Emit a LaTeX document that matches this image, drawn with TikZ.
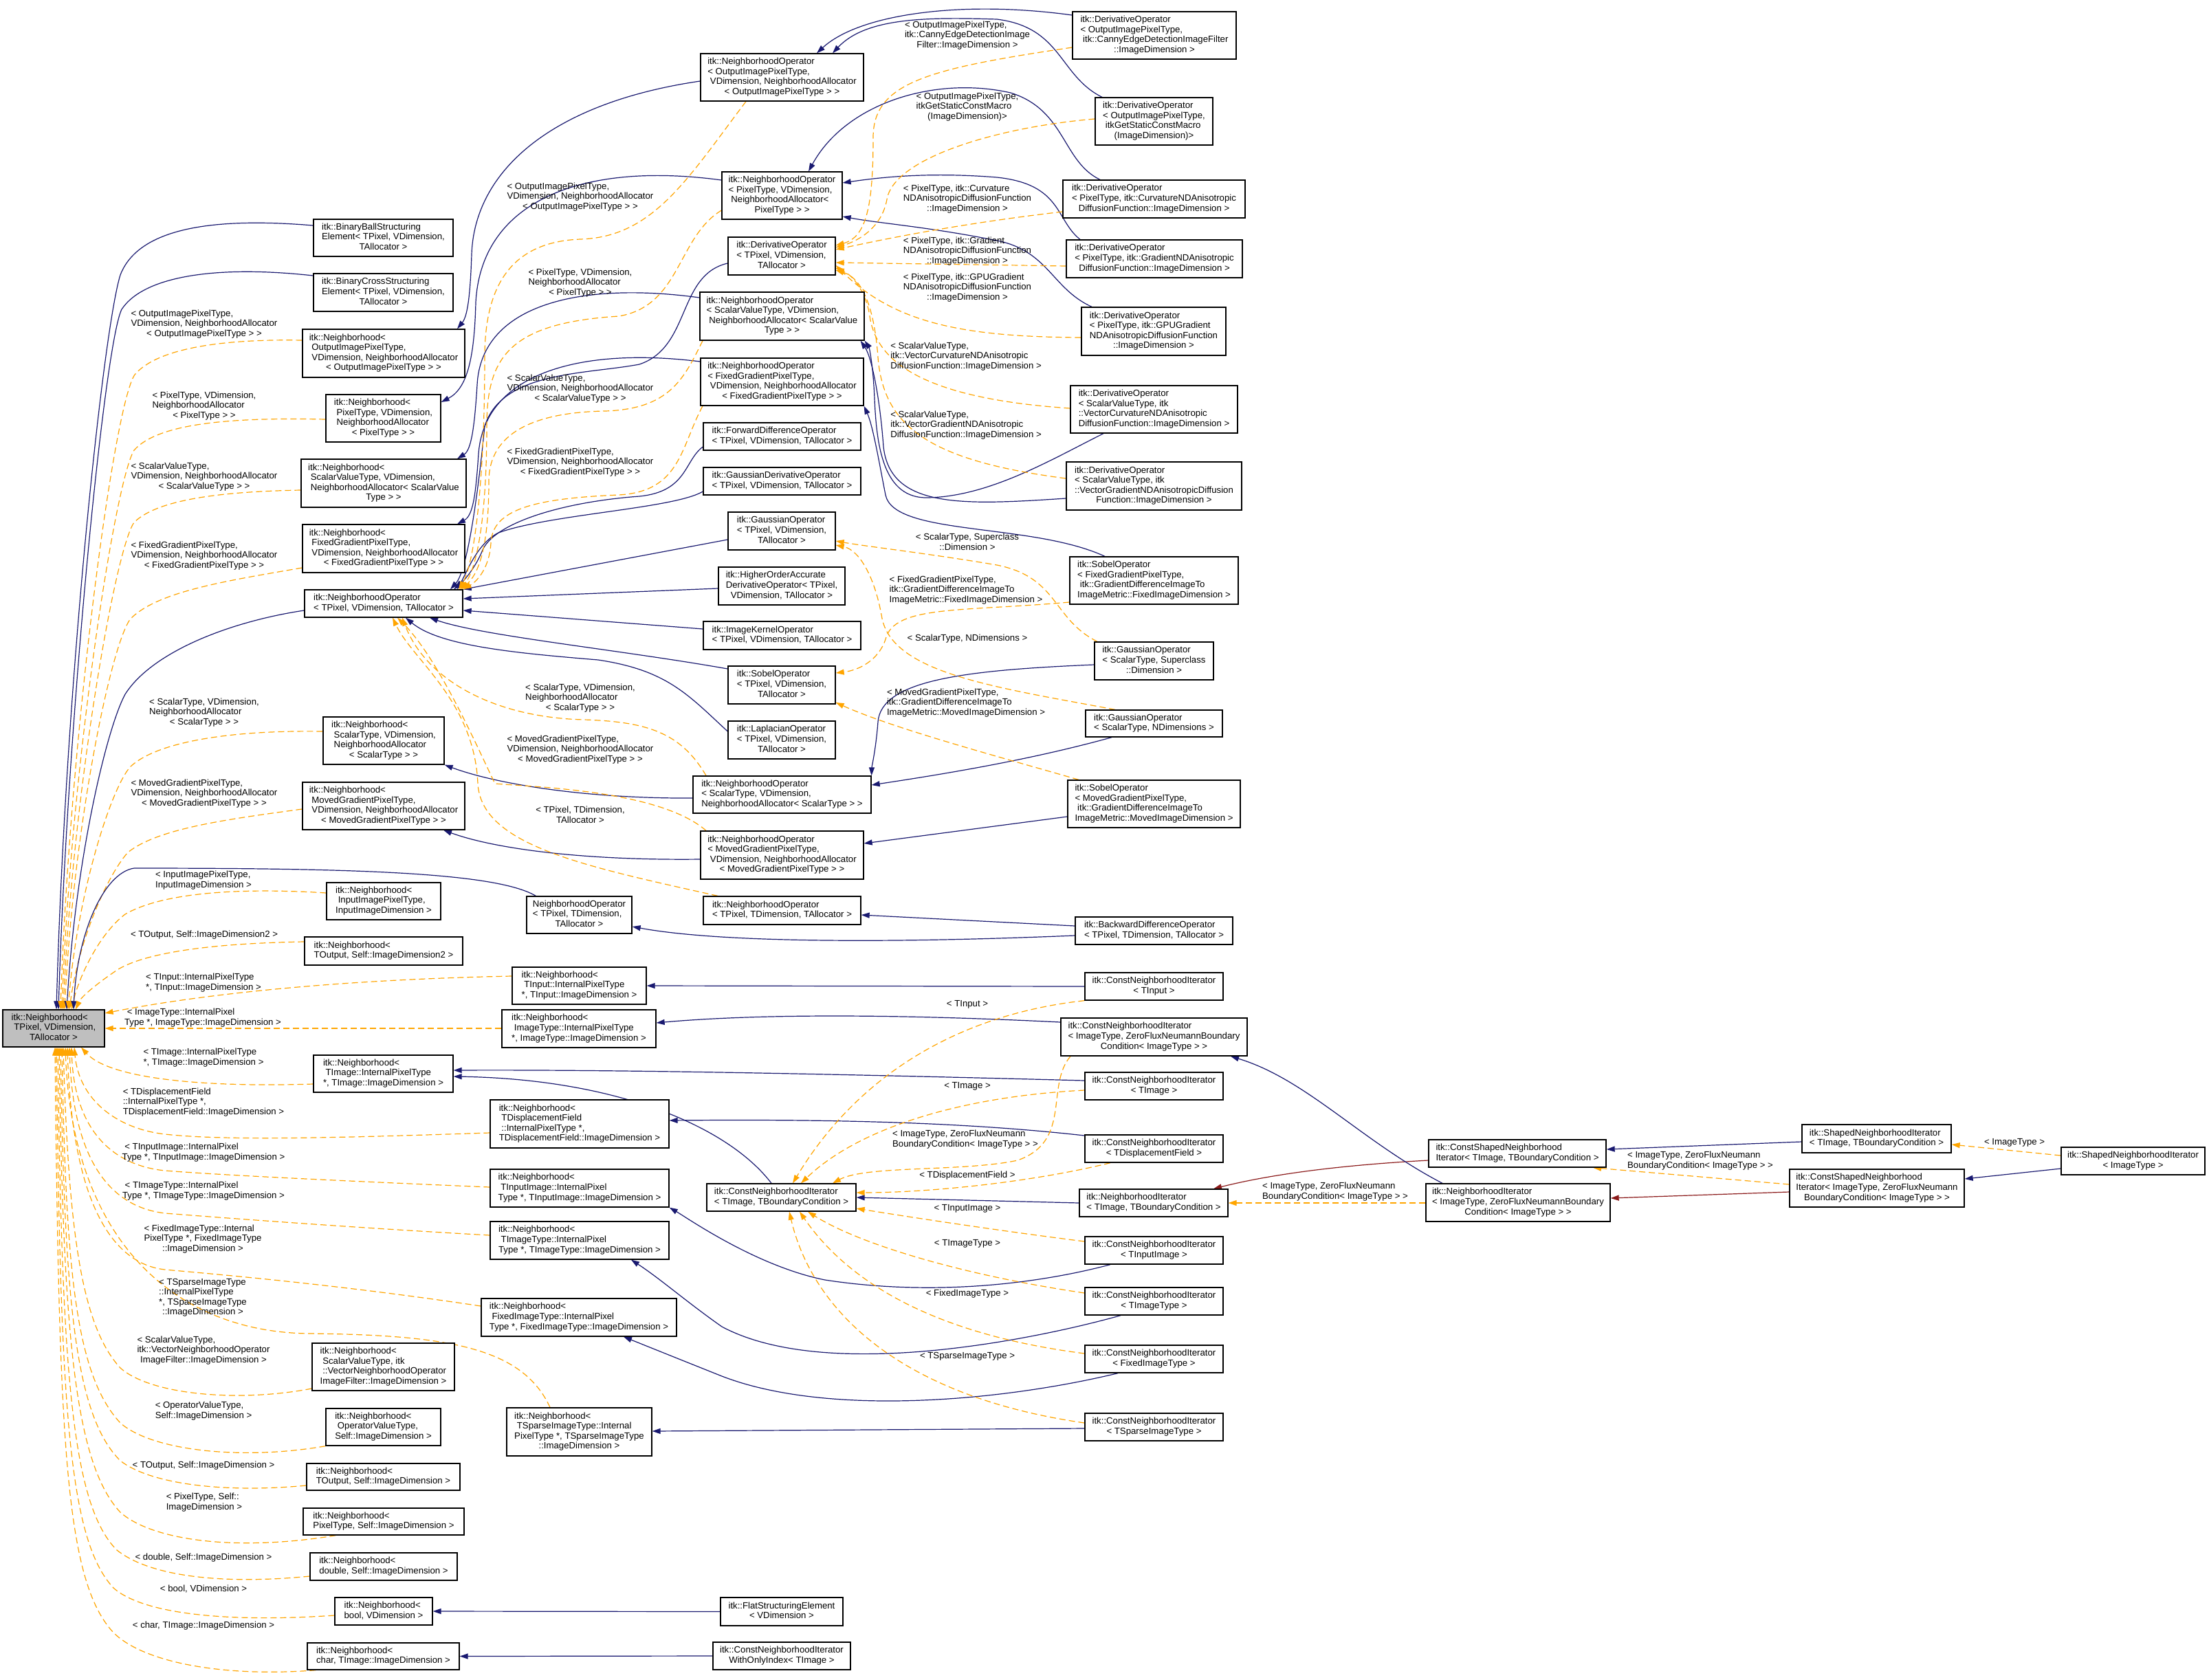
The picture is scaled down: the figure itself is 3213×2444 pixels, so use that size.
\documentclass[tikz,border=0pt]{standalone}
\usepackage{fontspec}
\setmainfont{Liberation Sans}
\usetikzlibrary{arrows.meta}
\definecolor{mblue}{HTML}{191970}
\definecolor{dorange}{HTML}{FFA500}
\definecolor{dred}{HTML}{8B1A1A}
\definecolor{rootgray}{HTML}{BFBFBF}
\newcommand\dxfont{\fontsize{13.2}{14.6}\selectfont}
\newcommand\dxl[2]{\begin{tabular}{@{}l@{}}#1\\\multicolumn{1}{@{}c@{}}{#2}\end{tabular}}
\pgfdeclarelayer{edges}
\pgfsetlayers{edges,main}
\begin{document}
\begin{tikzpicture}[x=1pt,y=-1pt,
  cls/.style 2 args={draw=black,line width=1.3pt,fill=white,minimum width=#1pt,minimum height=#2pt,inner sep=2pt,font=\dxfont},
  elab/.style={inner sep=0pt,font=\dxfont},
  pubE/.style={draw=mblue,line width=1.2pt,-{Triangle[length=12pt,width=8pt]}},
  tmpE/.style={draw=dorange,line width=1.2pt,dash pattern=on 9pt off 5pt,-{Triangle[length=12pt,width=8pt]}},
  proE/.style={draw=dred,line width=1.2pt,-{Triangle[length=12pt,width=8pt]}}]
\path[use as bounding box] (0,0) rectangle (3213,2444);
% ---------- nodes: column 0/1
\node[cls={148}{54},fill=rootgray] (root) at (78,1496) {\dxl{itk::Neighborhood<\\\ TPixel, VDimension,}{TAllocator >}};
\node[cls={203}{54}] (N1) at (557.5,346) {\dxl{itk::BinaryBallStructuring\\Element< TPixel, VDimension,}{TAllocator >}};
\node[cls={203}{55}] (N2) at (557.5,425.5) {\dxl{itk::BinaryCrossStructuring\\Element< TPixel, VDimension,}{TAllocator >}};
\node[cls={236}{70}] (N3) at (558,514) {\dxl{itk::Neighborhood<\\\ OutputImagePixelType,\\\ VDimension, NeighborhoodAllocator}{< OutputImagePixelType > >}};
\node[cls={167}{69}] (N4) at (557.5,608.5) {\dxl{itk::Neighborhood<\\\ PixelType, VDimension,\\\ NeighborhoodAllocator}{< PixelType > >}};
\node[cls={240}{70}] (N5) at (558,703) {\dxl{itk::Neighborhood<\\\ ScalarValueType, VDimension,\\\ NeighborhoodAllocator< ScalarValue}{Type > >}};
\node[cls={236}{70}] (N6) at (558,798) {\dxl{itk::Neighborhood<\\\ FixedGradientPixelType,\\\ VDimension, NeighborhoodAllocator}{< FixedGradientPixelType > >}};
\node[cls={230}{40}] (N7) at (558,878) {\dxl{itk::NeighborhoodOperator}{< TPixel, VDimension, TAllocator >}};
\node[cls={176}{69}] (N8) at (558,1077.5) {\dxl{itk::Neighborhood<\\\ ScalarType, VDimension,\\\ NeighborhoodAllocator}{< ScalarType > >}};
\node[cls={236}{69}] (N9) at (558,1172.5) {\dxl{itk::Neighborhood<\\\ MovedGradientPixelType,\\\ VDimension, NeighborhoodAllocator}{< MovedGradientPixelType > >}};
\node[cls={166}{54}] (N10) at (558,1311) {\dxl{itk::Neighborhood<\\\ InputImagePixelType,}{InputImageDimension >}};
\node[cls={230}{41}] (N11) at (558,1383.5) {\dxl{itk::Neighborhood<}{TOutput, Self::ImageDimension2 >}};
\node[cls={153}{54}] (N12) at (842.5,1331) {\dxl{NeighborhoodOperator\\< TPixel, TDimension,}{TAllocator >}};
\node[cls={195}{54}] (N13) at (842.5,1434) {\dxl{itk::Neighborhood<\\\ TInput::InternalPixelType}{*, TInput::ImageDimension >}};
\node[cls={224}{55}] (N14) at (842,1496.5) {\dxl{itk::Neighborhood<\\\ ImageType::InternalPixelType}{*, ImageType::ImageDimension >}};
\node[cls={203}{54}] (N15) at (557.5,1562) {\dxl{itk::Neighborhood<\\\ TImage::InternalPixelType}{*, TImage::ImageDimension >}};
\node[cls={260}{70}] (N16) at (843,1635) {\dxl{itk::Neighborhood<\\\ TDisplacementField\\\ ::InternalPixelType *,}{TDisplacementField::ImageDimension >}};
\node[cls={260}{55}] (N17) at (843,1728.5) {\dxl{itk::Neighborhood<\\\ TInputImage::InternalPixel}{Type *, TInputImage::ImageDimension >}};
\node[cls={260}{55}] (N18) at (843,1804.5) {\dxl{itk::Neighborhood<\\\ TImageType::InternalPixel}{Type *, TImageType::ImageDimension >}};
\node[cls={284}{55}] (N19) at (842,1916.5) {\dxl{itk::Neighborhood<\\\ FixedImageType::InternalPixel}{Type *, FixedImageType::ImageDimension >}};
\node[cls={207}{69}] (N20) at (557.5,1988.5) {\dxl{itk::Neighborhood<\\\ ScalarValueType, itk\\\ ::VectorNeighborhoodOperator}{ImageFilter::ImageDimension >}};
\node[cls={211}{70}] (N21) at (842.5,2083) {\dxl{itk::Neighborhood<\\\ TSparseImageType::Internal\\PixelType *, TSparseImageType}{::ImageDimension >}};
\node[cls={167}{54}] (N22) at (557.5,2076) {\dxl{itk::Neighborhood<\\\ OperatorValueType,}{Self::ImageDimension >}};
\node[cls={223}{39}] (N23) at (557.5,2148.5) {\dxl{itk::Neighborhood<}{TOutput, Self::ImageDimension >}};
\node[cls={234}{39}] (N24) at (558,2213.5) {\dxl{itk::Neighborhood<}{PixelType, Self::ImageDimension >}};
\node[cls={214}{40}] (N25) at (558,2279) {\dxl{itk::Neighborhood<}{double, Self::ImageDimension >}};
\node[cls={142}{40}] (N26) at (558,2344) {\dxl{itk::Neighborhood<}{bool, VDimension >}};
\node[cls={221}{39}] (N27) at (557.5,2409.5) {\dxl{itk::Neighborhood<}{char, TImage::ImageDimension >}};
% ---------- column 2
\node[cls={237}{69}] (M1) at (1137.5,112.5) {\dxl{itk::NeighborhoodOperator\\< OutputImagePixelType,\\\ VDimension, NeighborhoodAllocator}{< OutputImagePixelType > >}};
\node[cls={175}{69}] (M2) at (1137.5,284.5) {\dxl{itk::NeighborhoodOperator\\< PixelType, VDimension,\\\ NeighborhoodAllocator<}{PixelType > >}};
\node[cls={156}{55}] (M3) at (1137,372.5) {\dxl{itk::DerivativeOperator\\< TPixel, VDimension,}{TAllocator >}};
\node[cls={239}{70}] (M4) at (1137.5,460) {\dxl{itk::NeighborhoodOperator\\< ScalarValueType, VDimension,\\\ NeighborhoodAllocator< ScalarValue}{Type > >}};
\node[cls={237}{69}] (M5) at (1137.5,555.5) {\dxl{itk::NeighborhoodOperator\\< FixedGradientPixelType,\\\ VDimension, NeighborhoodAllocator}{< FixedGradientPixelType > >}};
\node[cls={229}{40}] (M6) at (1137.5,635) {\dxl{itk::ForwardDifferenceOperator}{< TPixel, VDimension, TAllocator >}};
\node[cls={229}{40}] (M7) at (1137.5,700) {\dxl{itk::GaussianDerivativeOperator}{< TPixel, VDimension, TAllocator >}};
\node[cls={156}{55}] (M8) at (1137,772.5) {\dxl{itk::GaussianOperator\\< TPixel, VDimension,}{TAllocator >}};
\node[cls={184}{55}] (M9) at (1137,852.5) {\dxl{itk::HigherOrderAccurate\\DerivativeOperator< TPixel,}{VDimension, TAllocator >}};
\node[cls={229}{41}] (M10) at (1137.5,924.5) {\dxl{itk::ImageKernelOperator}{< TPixel, VDimension, TAllocator >}};
\node[cls={156}{55}] (M11) at (1137,996.5) {\dxl{itk::SobelOperator\\< TPixel, VDimension,}{TAllocator >}};
\node[cls={156}{55}] (M12) at (1137,1076.5) {\dxl{itk::LaplacianOperator\\< TPixel, VDimension,}{TAllocator >}};
\node[cls={259}{54}] (M13) at (1137.5,1156) {\dxl{itk::NeighborhoodOperator\\< ScalarType, VDimension,}{NeighborhoodAllocator< ScalarType > >}};
\node[cls={237}{70}] (M14) at (1137.5,1244) {\dxl{itk::NeighborhoodOperator\\< MovedGradientPixelType,\\\ VDimension, NeighborhoodAllocator}{< MovedGradientPixelType > >}};
\node[cls={229}{41}] (M15) at (1137.5,1324.5) {\dxl{itk::NeighborhoodOperator}{< TPixel, TDimension, TAllocator >}};
\node[cls={217}{40}] (M16) at (1136.5,1742) {\dxl{itk::ConstNeighborhoodIterator}{< TImage, TBoundaryCondition >}};
\node[cls={178}{41}] (M17) at (1137,2344.5) {\dxl{itk::FlatStructuringElement}{< VDimension >}};
\node[cls={200}{40}] (M18) at (1137,2409) {\dxl{itk::ConstNeighborhoodIterator}{WithOnlyIndex< TImage >}};
% ---------- column 3
\node[cls={238}{69}] (R1) at (1679,51.5) {\dxl{itk::DerivativeOperator\\< OutputImagePixelType,\\\ itk::CannyEdgeDetectionImageFilter}{::ImageDimension >}};
\node[cls={171}{69}] (R2) at (1678.5,176.5) {\dxl{itk::DerivativeOperator\\< OutputImagePixelType,\\\ itkGetStaticConstMacro}{(ImageDimension)>}};
\node[cls={265}{55}] (R3) at (1678.5,289.5) {\dxl{itk::DerivativeOperator\\< PixelType, itk::CurvatureNDAnisotropic}{DiffusionFunction::ImageDimension >}};
\node[cls={256}{55}] (R4) at (1679,376.5) {\dxl{itk::DerivativeOperator\\< PixelType, itk::GradientNDAnisotropic}{DiffusionFunction::ImageDimension >}};
\node[cls={210}{70}] (R5) at (1678,482) {\dxl{itk::DerivativeOperator\\< PixelType, itk::GPUGradient\\NDAnisotropicDiffusionFunction}{::ImageDimension >}};
\node[cls={243}{69}] (R6) at (1678.5,595.5) {\dxl{itk::DerivativeOperator\\< ScalarValueType, itk\\::VectorCurvatureNDAnisotropic}{DiffusionFunction::ImageDimension >}};
\node[cls={255}{70}] (R7) at (1678.5,707) {\dxl{itk::DerivativeOperator\\< ScalarValueType, itk\\::VectorGradientNDAnisotropicDiffusion}{Function::ImageDimension >}};
\node[cls={245}{69}] (R8) at (1678.5,844.5) {\dxl{itk::SobelOperator\\< FixedGradientPixelType,\\\ itk::GradientDifferenceImageTo}{ImageMetric::FixedImageDimension >}};
\node[cls={173}{55}] (R9) at (1678.5,961.5) {\dxl{itk::GaussianOperator\\< ScalarType, Superclass}{::Dimension >}};
\node[cls={199}{39}] (R10) at (1678.5,1052.5) {\dxl{itk::GaussianOperator}{< ScalarType, NDimensions >}};
\node[cls={251}{69}] (R11) at (1678.5,1169.5) {\dxl{itk::SobelOperator\\< MovedGradientPixelType,\\\ itk::GradientDifferenceImageTo}{ImageMetric::MovedImageDimension >}};
\node[cls={229}{40}] (R12) at (1678.5,1354) {\dxl{itk::BackwardDifferenceOperator}{< TPixel, TDimension, TAllocator >}};
\node[cls={201}{40}] (R13) at (1678.5,1435) {\dxl{itk::ConstNeighborhoodIterator}{< TInput >}};
\node[cls={271}{55}] (R14) at (1678.5,1508.5) {\dxl{itk::ConstNeighborhoodIterator\\< ImageType, ZeroFluxNeumannBoundary}{Condition< ImageType > >}};
\node[cls={201}{40}] (R15) at (1678.5,1580) {\dxl{itk::ConstNeighborhoodIterator}{< TImage >}};
\node[cls={201}{40}] (R16) at (1678.5,1671) {\dxl{itk::ConstNeighborhoodIterator}{< TDisplacementField >}};
\node[cls={216}{40}] (R17) at (1678,1750) {\dxl{itk::NeighborhoodIterator}{< TImage, TBoundaryCondition >}};
\node[cls={201}{40}] (R18) at (1678.5,1819) {\dxl{itk::ConstNeighborhoodIterator}{< TInputImage >}};
\node[cls={201}{40}] (R19) at (1678.5,1893) {\dxl{itk::ConstNeighborhoodIterator}{< TImageType >}};
\node[cls={201}{40}] (R20) at (1678.5,1977) {\dxl{itk::ConstNeighborhoodIterator}{< FixedImageType >}};
\node[cls={201}{40}] (R21) at (1678.5,2076) {\dxl{itk::ConstNeighborhoodIterator}{< TSparseImageType >}};
% ---------- right cluster
\node[cls={258}{40}] (S1) at (2207,1678) {\dxl{itk::ConstShapedNeighborhood}{Iterator< TImage, TBoundaryCondition >}};
\node[cls={268}{55}] (S2) at (2208,1749.5) {\dxl{itk::NeighborhoodIterator\\< ImageType, ZeroFluxNeumannBoundary}{Condition< ImageType > >}};
\node[cls={217}{41}] (T1) at (2729.5,1656.5) {\dxl{itk::ShapedNeighborhoodIterator}{< TImage, TBoundaryCondition >}};
\node[cls={254}{55}] (T2) at (2730,1728.5) {\dxl{itk::ConstShapedNeighborhood\\Iterator< ImageType, ZeroFluxNeumann}{BoundaryCondition< ImageType > >}};
\node[cls={209}{40}] (U1) at (3102.5,1689) {\dxl{itk::ShapedNeighborhoodIterator}{< ImageType >}};
% ---------- edge labels (root)
\node[elab] (l3) at (297,472) {\dxl{< OutputImagePixelType,\\VDimension, NeighborhoodAllocator}{< OutputImagePixelType > >}};
\node[elab] (l4) at (297,591) {\dxl{< PixelType, VDimension,\\NeighborhoodAllocator}{< PixelType > >}};
\node[elab] (l5) at (297,694) {\dxl{< ScalarValueType,\\VDimension, NeighborhoodAllocator}{< ScalarValueType > >}};
\node[elab] (l6) at (297,809) {\dxl{< FixedGradientPixelType,\\VDimension, NeighborhoodAllocator}{< FixedGradientPixelType > >}};
\node[elab] (l8) at (297,1037) {\dxl{< ScalarType, VDimension,\\NeighborhoodAllocator}{< ScalarType > >}};
\node[elab] (l9) at (297,1155) {\dxl{< MovedGradientPixelType,\\VDimension, NeighborhoodAllocator}{< MovedGradientPixelType > >}};
\node[elab] (l10) at (296,1281) {\dxl{< InputImagePixelType,}{InputImageDimension >}};
\node[elab] (l11) at (297,1360) {< TOutput, Self::ImageDimension2 >};
\node[elab] (l13) at (296,1430) {\dxl{< TInput::InternalPixelType}{*, TInput::ImageDimension >}};
\node[elab] (l14) at (295,1481) {\dxl{\ < ImageType::InternalPixel}{Type *, ImageType::ImageDimension >}};
\node[elab] (l15) at (296,1539) {\dxl{< TImage::InternalPixelType}{*, TImage::ImageDimension >}};
\node[elab] (l16) at (296,1604) {\dxl{< TDisplacementField\\::InternalPixelType *,}{TDisplacementField::ImageDimension >}};
\node[elab] (l17) at (296,1677) {\dxl{\ < TInputImage::InternalPixel}{Type *, TInputImage::ImageDimension >}};
\node[elab] (l18) at (296,1733) {\dxl{\ < TImageType::InternalPixel}{Type *, TImageType::ImageDimension >}};
\node[elab] (l19) at (295,1803) {\dxl{< FixedImageType::Internal\\PixelType *, FixedImageType}{::ImageDimension >}};
\node[elab] (l21) at (295,1888) {\dxl{< TSparseImageType\\::InternalPixelType\\{}*, TSparseImageType}{::ImageDimension >}};
\node[elab] (l20) at (296,1965) {\dxl{< ScalarValueType,\\itk::VectorNeighborhoodOperator}{ImageFilter::ImageDimension >}};
\node[elab] (l22) at (296,2053) {\dxl{< OperatorValueType,}{Self::ImageDimension >}};
\node[elab] (l23) at (296,2132) {< TOutput, Self::ImageDimension >};
\node[elab] (l24) at (297,2186) {\dxl{< PixelType, Self::}{ImageDimension >}};
\node[elab] (l25) at (296,2266) {< double, Self::ImageDimension >};
\node[elab] (l26) at (296,2312) {< bool, VDimension >};
\node[elab] (l27) at (296,2365) {< char, TImage::ImageDimension >};
% ---------- edge labels (N7)
\node[elab] (lm1) at (844,287) {\dxl{< OutputImagePixelType,\\VDimension, NeighborhoodAllocator}{< OutputImagePixelType > >}};
\node[elab] (lm2) at (844,412) {\dxl{< PixelType, VDimension,\\NeighborhoodAllocator}{< PixelType > >}};
\node[elab] (lm4) at (844,566) {\dxl{< ScalarValueType,\\VDimension, NeighborhoodAllocator}{< ScalarValueType > >}};
\node[elab] (lm5) at (844,673) {\dxl{< FixedGradientPixelType,\\VDimension, NeighborhoodAllocator}{< FixedGradientPixelType > >}};
\node[elab] (lm13) at (844,1016) {\dxl{< ScalarType, VDimension,\\NeighborhoodAllocator}{< ScalarType > >}};
\node[elab] (lm14) at (844,1091) {\dxl{< MovedGradientPixelType,\\VDimension, NeighborhoodAllocator}{< MovedGradientPixelType > >}};
\node[elab] (lm15) at (844,1187) {\dxl{< TPixel, TDimension,}{TAllocator >}};
% ---------- edge labels (M column)
\node[elab] (lr1) at (1407,52) {\dxl{< OutputImagePixelType,\\itk::CannyEdgeDetectionImage}{Filter::ImageDimension >}};
\node[elab] (lr2) at (1407,156) {\dxl{< OutputImagePixelType,\\itkGetStaticConstMacro}{(ImageDimension)>}};
\node[elab] (lr3) at (1407,290) {\dxl{< PixelType, itk::Curvature\\NDAnisotropicDiffusionFunction}{::ImageDimension >}};
\node[elab] (lr4) at (1407,366) {\dxl{< PixelType, itk::Gradient\\NDAnisotropicDiffusionFunction}{::ImageDimension >}};
\node[elab] (lr5) at (1407,419) {\dxl{< PixelType, itk::GPUGradient\\NDAnisotropicDiffusionFunction}{::ImageDimension >}};
\node[elab] (lr6) at (1405,519) {\dxl{< ScalarValueType,\\itk::VectorCurvatureNDAnisotropic}{DiffusionFunction::ImageDimension >}};
\node[elab] (lr7) at (1405,619) {\dxl{< ScalarValueType,\\itk::VectorGradientNDAnisotropic}{DiffusionFunction::ImageDimension >}};
\node[elab] (lr9) at (1407,790) {\dxl{< ScalarType, Superclass}{::Dimension >}};
\node[elab] (lr8) at (1405,859) {\dxl{< FixedGradientPixelType,\\itk::GradientDifferenceImageTo}{ImageMetric::FixedImageDimension >}};
\node[elab] (lr10) at (1407,929) {< ScalarType, NDimensions >};
\node[elab] (lr11) at (1405,1023) {\dxl{< MovedGradientPixelType,\\itk::GradientDifferenceImageTo}{ImageMetric::MovedImageDimension >}};
\node[elab] (lc13) at (1407,1461) {< TInput >};
\node[elab] (lc15) at (1407,1580) {< TImage >};
\node[elab] (lc14) at (1404,1658) {\dxl{< ImageType, ZeroFluxNeumann}{BoundaryCondition< ImageType > >}};
\node[elab] (lc16) at (1407,1710) {< TDisplacementField >};
\node[elab] (lc18) at (1407,1758) {< TInputImage >};
\node[elab] (lc19) at (1407,1809) {< TImageType >};
\node[elab] (lc20) at (1407,1882) {< FixedImageType >};
\node[elab] (lc21) at (1407,1973) {< TSparseImageType >};
\node[elab] (ls2) at (1942,1734) {\dxl{< ImageType, ZeroFluxNeumann}{BoundaryCondition< ImageType > >}};
\node[elab] (lt2) at (2473,1689) {\dxl{< ImageType, ZeroFluxNeumann}{BoundaryCondition< ImageType > >}};
\node[elab] (lu1) at (2930,1662) {< ImageType >};
% ================= edges
\begin{pgfonlayer}{edges}
\fill[white] (0,0) rectangle (3213,2444);
% root top
\draw[pubE] (N1.west |- 0,328) .. controls (300,315) and (200,335) .. (175,400) .. controls (150,480) and (95,1000) .. (root.north -| 82,0);
\draw[pubE] (N2.west |- 0,401) .. controls (320,386) and (210,400) .. (177,450) .. controls (152,500) and (98,1050) .. (root.north -| 85,0);
\draw[tmpE] (N3.west |- 0,495) .. controls (330,493) and (230,505) .. (196,545) .. controls (165,590) and (101,1080) .. (root.north -| 88,0);
\draw[tmpE] (N4.west |- 0,610) .. controls (340,607) and (230,615) .. (195,655) .. controls (167,700) and (103,1120) .. (root.north -| 90,0);
\draw[tmpE] (N5.west |- 0,713) .. controls (330,715) and (230,725) .. (195,760) .. controls (167,800) and (105,1160) .. (root.north -| 92,0);
\draw[tmpE] (N6.west |- 0,826) .. controls (330,845) and (230,860) .. (190,900) .. controls (162,935) and (107,1200) .. (root.north -| 94,0);
\draw[pubE] (N7.west |- 0,888) .. controls (330,905) and (220,950) .. (182,1010) .. controls (155,1060) and (110,1250) .. (root.north -| 97,0);
\draw[tmpE] (N8.west |- 0,1064) .. controls (340,1062) and (230,1078) .. (190,1115) .. controls (162,1145) and (112,1300) .. (root.north -| 99,0);
\draw[tmpE] (N9.west |- 0,1177) .. controls (330,1192) and (230,1205) .. (186,1240) .. controls (155,1275) and (114,1370) .. (root.north -| 101,0);
\draw[tmpE] (N10.west |- 0,1299) .. controls (330,1290) and (230,1302) .. (182,1330) .. controls (145,1358) and (115,1420) .. (root.north -| 104,0);
\draw[pubE] ([xshift=14pt]N12.north west) .. controls (720,1268) and (500,1263) .. (195,1263) .. controls (150,1270) and (112,1360) .. (root.north -| 107,0);
\draw[tmpE] (N11.west |- 0,1370) .. controls (330,1372) and (220,1382) .. (172,1410) .. controls (142,1430) and (118,1450) .. (root.north -| 110,0);
% root right
\draw[tmpE] (N13.west |- 0,1420) .. controls (500,1425) and (300,1445) .. (root.east |- 0,1474);
\draw[tmpE] (N14.west |- 0,1496) -- (root.east |- 0,1496);
% root bottom
\draw[tmpE] (N15.west |- 0,1577) .. controls (300,1582) and (160,1570) .. (root.south -| 118,0);
\draw[tmpE] (N16.west |- 0,1648) .. controls (500,1655) and (330,1660) .. (240,1650) .. controls (170,1642) and (115,1600) .. (root.south -| 108,0);
\draw[tmpE] (N17.west |- 0,1727) .. controls (500,1718) and (330,1710) .. (240,1703) .. controls (160,1695) and (108,1640) .. (root.south -| 104,0);
\draw[tmpE] (N18.west |- 0,1797) .. controls (500,1785) and (330,1772) .. (240,1765) .. controls (155,1755) and (106,1680) .. (root.south -| 101,0);
\draw[tmpE] (N19.west |- 0,1900) .. controls (500,1870) and (330,1855) .. (240,1847) .. controls (150,1837) and (104,1720) .. (root.south -| 98,0);
\draw[tmpE] (N21.north -| 800,0) .. controls (760,1960) and (650,1942) .. (450,1940) .. controls (250,1938) and (105,1800) .. (root.south -| 95,0);
\draw[tmpE] (N20.west |- 0,2020) .. controls (350,2040) and (220,2030) .. (175,1990) .. controls (120,1930) and (100,1800) .. (root.south -| 92,0);
\draw[tmpE] (N22.south west) .. controls (350,2125) and (220,2110) .. (175,2070) .. controls (110,2000) and (96,1850) .. (root.south -| 90,0);
\draw[tmpE] (N23.west |- 0,2161) .. controls (330,2172) and (220,2160) .. (175,2125) .. controls (110,2060) and (94,1900) .. (root.south -| 88,0);
\draw[tmpE] ([xshift=48pt]N24.south west) .. controls (340,2258) and (220,2240) .. (175,2200) .. controls (110,2130) and (92,1950) .. (root.south -| 86,0);
\draw[tmpE] (N25.west |- 0,2293) .. controls (330,2305) and (220,2295) .. (170,2255) .. controls (105,2190) and (90,2000) .. (root.south -| 84,0);
\draw[tmpE] (N26.west |- 0,2350) .. controls (340,2360) and (210,2350) .. (165,2310) .. controls (100,2240) and (88,2050) .. (root.south -| 82,0);
\draw[tmpE] ([xshift=13pt]N27.south west) .. controls (330,2440) and (210,2420) .. (165,2375) .. controls (95,2300) and (86,2100) .. (root.south -| 80,0);
\draw[pubE] (M17.west) -- (N26.east);
\draw[pubE] (M18.west) -- (N27.east);
% M -> N blue
\draw[pubE] (M1.west |- 0,118) .. controls (800,150) and (690,250) .. (686,370) .. controls (684,430) and (680,460) .. (N3.north -| 665,0);
\draw[pubE] (M2.west |- 0,262) .. controls (850,235) and (700,290) .. (692,440) .. controls (690,520) and (680,565) .. (N4.east |- 0,585);
\draw[pubE] (M4.west |- 0,433) .. controls (850,410) and (700,440) .. (694,560) .. controls (690,625) and (685,655) .. (N5.north -| 665,0);
\draw[pubE] (M5.west |- 0,526) .. controls (850,505) and (705,540) .. (696,660) .. controls (692,720) and (688,750) .. (N6.north -| 665,0);
\draw[pubE] (M13.west |- 0,1161) .. controls (850,1162) and (720,1140) .. (N8.south east);
\draw[pubE] (M14.west |- 0,1250) .. controls (850,1252) and (720,1235) .. (N9.south -| 645,0);
% into N7 blue
\draw[pubE] (M3.west |- 0,383) .. controls (985,400) and (1005,505) .. (930,530) .. controls (850,545) and (730,540) .. (705,620) .. controls (695,720) and (680,830) .. (N7.north -| 655,0);
\draw[pubE] (M6.west |- 0,650) .. controls (995,670) and (1000,715) .. (930,722) .. controls (820,730) and (720,760) .. (702,800) .. controls (692,825) and (675,845) .. (N7.north -| 660,0);
\draw[pubE] (M7.west |- 0,715) .. controls (980,740) and (800,748) .. (725,775) .. controls (695,790) and (680,830) .. (N7.north -| 665,0);
\draw[pubE] (M8.west |- 0,785) -- (N7.north east);
\draw[pubE] (M9.west |- 0,856) -- (N7.east |- 0,871);
\draw[pubE] (M10.west |- 0,915) -- (N7.east |- 0,888);
\draw[pubE] (M11.west |- 0,973) .. controls (900,945) and (700,925) .. (N7.south -| 625,0);
\draw[pubE] (M12.west |- 0,1064) .. controls (1000,1010) and (970,975) .. (870,960) .. controls (750,950) and (640,940) .. (N7.south -| 590,0);
% into N7 orange
\draw[tmpE] (M1.south -| 1085,0) .. controls (1000,260) and (950,345) .. (844,348) .. controls (740,352) and (705,420) .. (705,520) .. controls (705,700) and (690,820) .. (N7.north -| 667,0);
\draw[tmpE] (M2.west |- 0,306) .. controls (985,345) and (990,445) .. (900,460) .. controls (740,470) and (708,520) .. (708,620) .. controls (708,760) and (692,830) .. (N7.north -| 669,0);
\draw[tmpE] (M4.south -| 1022,0) .. controls (995,550) and (975,595) .. (880,598) .. controls (760,600) and (711,640) .. (711,700) .. controls (711,800) and (695,835) .. (N7.north -| 671,0);
\draw[tmpE] (M5.south -| 1022,0) .. controls (990,650) and (990,715) .. (900,720) .. controls (780,725) and (716,740) .. (714,790) .. controls (712,825) and (695,845) .. (N7.north east);
\draw[tmpE] (M13.north -| 1027,0) .. controls (990,1065) and (940,1050) .. (850,1047) .. controls (720,1044) and (620,990) .. (N7.south -| 585,0);
\draw[tmpE] (M14.north -| 1027,0) .. controls (960,1150) and (780,1145) .. (720,1140) .. controls (700,1100) and (640,960) .. (N7.south -| 578,0);
\draw[tmpE] (M15.north -| 1044,0) .. controls (850,1260) and (700,1230) .. (695,1140) .. controls (690,1020) and (600,960) .. (N7.south -| 571,0);
% R -> M blue
\draw[pubE] (R1.west |- 0,22) .. controls (1400,0) and (1250,20) .. (M1.north -| 1188,0);
\draw[pubE] (R2.north -| 1603,0) .. controls (1540,110) and (1545,40) .. (1450,28) .. controls (1350,25) and (1260,25) .. (M1.north -| 1211,0);
\draw[pubE] (R3.north -| 1600,0) .. controls (1545,235) and (1550,160) .. (1470,135) .. controls (1360,110) and (1230,150) .. (M2.north -| 1176,0);
\draw[pubE] (R4.north -| 1571,0) .. controls (1535,320) and (1545,268) .. (1450,258) .. controls (1350,250) and (1280,258) .. (M2.east |- 0,266);
\draw[pubE] (R5.north -| 1588,0) .. controls (1530,420) and (1525,365) .. (1450,350) .. controls (1350,330) and (1280,325) .. (M2.east |- 0,315);
\draw[pubE] (R6.south -| 1605,0) .. controls (1530,668) and (1440,722) .. (1350,724) .. controls (1285,726) and (1275,650) .. (1272,580) .. controls (1270,530) and (1264,505) .. (M4.south east);
\draw[pubE] (R7.west |- 0,725) .. controls (1400,735) and (1295,740) .. (1285,650) .. controls (1280,580) and (1268,520) .. ([xshift=-6pt]M4.south east);
\draw[pubE] (R8.north -| 1607,0) .. controls (1500,760) and (1300,780) .. (1288,720) .. controls (1280,680) and (1270,620) .. (M5.south east);
\draw[pubE] (R9.west |- 0,967) .. controls (1400,975) and (1282,990) .. (1277,1050) .. controls (1274,1090) and (1268,1115) .. (M13.north east);
\draw[pubE] (R10.south -| 1617,0) .. controls (1500,1105) and (1380,1125) .. (M13.east |- 0,1142);
\draw[pubE] (R11.west |- 0,1188) -- (M14.east |- 0,1227);
\draw[pubE] (R12.west |- 0,1347) -- (M15.east |- 0,1331);
\draw[pubE] (R12.west |- 0,1361) .. controls (1300,1372) and (1050,1372) .. (N12.east |- 0,1348);
% into M3 orange
\draw[tmpE] (R1.west |- 0,69) .. controls (1350,100) and (1270,120) .. (1270,200) .. controls (1270,300) and (1260,345) .. (M3.east |- 0,357);
\draw[tmpE] (R2.west |- 0,173) .. controls (1450,185) and (1300,230) .. (1290,290) .. controls (1283,330) and (1250,350) .. (M3.east |- 0,360);
\draw[tmpE] (R3.west |- 0,308) .. controls (1400,325) and (1300,345) .. (M3.east |- 0,363);
\draw[tmpE] (R4.west |- 0,387) -- (M3.east |- 0,382);
\draw[tmpE] (R5.west |- 0,491) .. controls (1400,490) and (1300,470) .. (M3.east |- 0,386);
\draw[tmpE] (R6.west |- 0,594) .. controls (1350,580) and (1275,530) .. (1265,460) .. controls (1260,425) and (1240,400) .. (M3.east |- 0,390);
\draw[tmpE] (R7.west |- 0,696) .. controls (1350,670) and (1285,620) .. (1277,520) .. controls (1272,450) and (1255,405) .. (M3.east |- 0,393);
% into M8 / M11 orange
\draw[tmpE] (R9.north -| 1596,0) .. controls (1530,900) and (1540,840) .. (1450,822) .. controls (1350,805) and (1260,795) .. (M8.east |- 0,787);
\draw[tmpE] (R10.north -| 1622,0) .. controls (1450,1000) and (1300,980) .. (1283,900) .. controls (1273,840) and (1250,800) .. (M8.east |- 0,793);
\draw[tmpE] (R8.west |- 0,876) .. controls (1400,890) and (1300,880) .. (1288,930) .. controls (1278,960) and (1250,975) .. (M11.east |- 0,979);
\draw[tmpE] (R11.north -| 1569,0) .. controls (1450,1100) and (1300,1060) .. (M11.east |- 0,1022);
% bottom region blue
\draw[pubE] (R13.west) -- (N13.east);
\draw[pubE] (R14.west |- 0,1487) .. controls (1300,1475) and (1100,1475) .. (N14.east |- 0,1488);
\draw[pubE] (R15.west |- 0,1572) .. controls (1200,1562) and (900,1556) .. (N15.east |- 0,1557);
\draw[pubE] (M16.north -| 1122,0) .. controls (1060,1640) and (900,1570) .. (N15.east |- 0,1566);
\draw[pubE] (R16.west |- 0,1652) .. controls (1400,1632) and (1200,1628) .. (N16.east |- 0,1630);
\draw[pubE] (R17.west) -- (M16.east);
\draw[pubE] (R18.south -| 1615,0) .. controls (1500,1870) and (1350,1885) .. (1200,1862) .. controls (1100,1842) and (1000,1772) .. (N17.south east);
\draw[pubE] (R19.south -| 1630,0) .. controls (1500,1950) and (1200,2010) .. (1050,1930) .. controls (1000,1895) and (960,1860) .. (N18.south -| 918,0);
\draw[pubE] (R20.south -| 1626,0) .. controls (1450,2040) and (1200,2060) .. (1050,2002) .. controls (990,1978) and (950,1962) .. (N19.south -| 907,0);
\draw[pubE] (R21.west |- 0,2078) -- (N21.east |- 0,2082);
% into M16 orange
\draw[tmpE] (R13.south west) .. controls (1400,1475) and (1250,1560) .. (M16.north -| 1153,0);
\draw[tmpE] (R14.south -| 1557,0) .. controls (1520,1580) and (1560,1660) .. (1480,1688) .. controls (1400,1705) and (1260,1695) .. (M16.north -| 1211,0);
\draw[tmpE] (R15.west |- 0,1586) .. controls (1400,1595) and (1250,1640) .. (M16.north -| 1165,0);
\draw[tmpE] (R16.south -| 1615,0) .. controls (1500,1720) and (1350,1735) .. (M16.east |- 0,1735);
\draw[tmpE] (R18.west |- 0,1806) .. controls (1450,1790) and (1320,1770) .. (M16.east |- 0,1758);
\draw[tmpE] (R19.west |- 0,1881) .. controls (1400,1855) and (1250,1810) .. (M16.south -| 1175,0);
\draw[tmpE] (R20.west |- 0,1969) .. controls (1350,1940) and (1230,1860) .. (M16.south -| 1163,0);
\draw[tmpE] (R21.west |- 0,2070) .. controls (1300,2030) and (1180,1900) .. (M16.south -| 1148,0);
% right cluster
\draw[proE] (S1.west |- 0,1688) .. controls (1950,1695) and (1850,1708) .. (R17.north -| 1765,0);
\draw[tmpE] (S2.west |- 0,1750) -- (R17.east |- 0,1750);
\draw[pubE] (S2.north -| 2098,0) .. controls (1980,1660) and (1900,1570) .. (R14.south -| 1790,0);
\draw[pubE] (T1.west |- 0,1661) -- (S1.east |- 0,1672);
\draw[tmpE] (T2.west |- 0,1723) -- (S1.south -| 2317,0);
\draw[proE] (T2.west |- 0,1734) -- (S2.east |- 0,1743);
\draw[tmpE] (U1.west |- 0,1681) -- (T1.east |- 0,1665);
\draw[pubE] (U1.west |- 0,1700) -- (T2.east |- 0,1715);
\end{pgfonlayer}
\end{tikzpicture}
\end{document}
